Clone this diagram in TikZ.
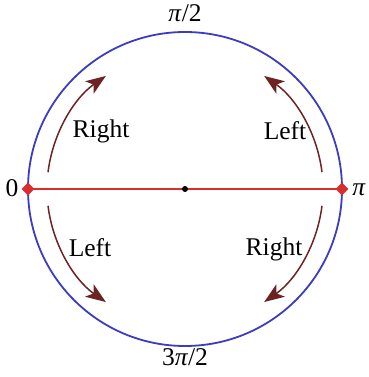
\documentclass[tikz,border=0pt]{standalone}
\usepackage{fontspec}
\setmainfont{Liberation Serif}
\usetikzlibrary{arrows.meta,calc,shapes.geometric}
\definecolor{circblue}{RGB}{60,60,195}
\definecolor{linered}{RGB}{220,45,45}
\definecolor{arrred}{RGB}{110,35,35}
\begin{document}
\begin{tikzpicture}[x=1pt,y=1pt,
  lbl/.style={inner sep=0pt,font=\fontsize{25.5}{30}\selectfont},
  arr/.style={draw=arrred,line width=1.5pt,-{Stealth[length=20pt,width=15pt,inset=5pt]}},
  dia/.style={diamond,fill=linered,inner sep=0pt,minimum width=13pt,minimum height=13pt},
]
\useasboundingbox (0,0) rectangle (368,377);
\coordinate (c0) at (185,188);
\draw[circblue,line width=1.8pt] (c0) circle[radius=157];
\coordinate (lp) at ($(c0)+(180:157)$);
\coordinate (rp) at ($(c0)+(0:157)$);
\draw[linered,line width=1.8pt] (lp) -- (rp);
\node[dia] (l) at (lp) {};
\node[dia] (r) at (rp) {};
\node[circle,fill=black,inner sep=0pt,minimum size=6pt] (c) at (c0) {};
% arcs
\coordinate (a1) at ($(c0)+(173:138)$);
\coordinate (a2) at ($(c0)+(7:138)$);
\coordinate (a3) at ($(c0)+(187:138)$);
\coordinate (a4) at ($(c0)+(-7:138)$);
\draw[arr] (a1) arc[start angle=173,end angle=125,radius=138];
\draw[arr] (a2) arc[start angle=7,end angle=55,radius=138];
\draw[arr] (a3) arc[start angle=187,end angle=235,radius=138];
\draw[arr] (a4) arc[start angle=-7,end angle=-55,radius=138];
% labels
\node[lbl] (t0) at (12,189) {0};
\node[lbl] (tpi) at (359,187) {\textit{π}};
\node[lbl] (tpi2) at (185,364) {\textit{π}/2};
\node[lbl] (t3pi2) at (185,20) {3\textit{π}/2};
\node[lbl] (r1) at (101,246) {Right};
\node[lbl] (l1) at (285,246) {Left};
\node[lbl] (l2) at (90,129) {Left};
\node[lbl] (r2) at (274,128) {Right};
\end{tikzpicture}
\end{document}
